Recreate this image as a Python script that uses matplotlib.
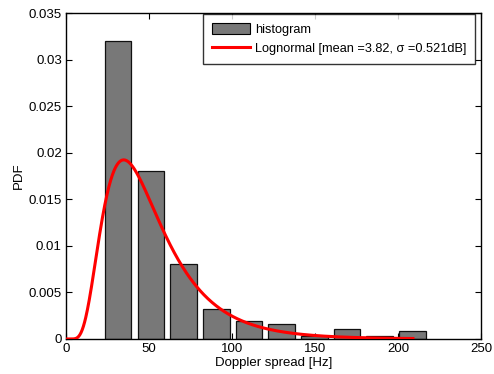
import numpy as np
import matplotlib
matplotlib.use("Agg")
import matplotlib.pyplot as plt
from matplotlib.patches import Patch
from matplotlib.lines import Line2D

plt.rcParams['font.family'] = ['Liberation Sans', 'DejaVu Sans']

# Histogram data (bin centers in Hz, PDF values)
bin_centers = [31.4, 51.1, 70.8, 90.5, 110.2, 129.9, 149.6, 169.3, 189.0, 208.7]
pdf_values = [0.0320, 0.0180, 0.0080, 0.00322, 0.00190, 0.00162, 0.00029, 0.00107, 0.00030, 0.00083]
bar_width = 16.0

# Lognormal fit parameters (from legend)
ln_mean = 3.82
ln_sigma = 0.521
x_max_fit = 209.0

xticks = [0, 50, 100, 150, 200, 250]
yticks = [0, 0.005, 0.01, 0.015, 0.02, 0.025, 0.03, 0.035]
ytick_labels = ['0', '0.005', '0.01', '0.015', '0.02', '0.025', '0.03', '0.035']

fig = plt.figure(figsize=(4.94, 3.74), dpi=100)
ax = fig.add_axes([0.1336, 0.0936, 0.8401, 0.8716])

ax.bar(bin_centers, pdf_values, width=bar_width, color='#787878',
       edgecolor='#111111', linewidth=0.9, zorder=2)

x = np.linspace(0.01, x_max_fit, 600)
y = 1.0 / (x * ln_sigma * np.sqrt(2 * np.pi)) * np.exp(-(np.log(x) - ln_mean) ** 2 / (2 * ln_sigma ** 2))
ax.plot(np.concatenate([[0], x]), np.concatenate([[0], y]), color='#ff0000', lw=2.2, zorder=3)

ax.set_xlim(0, 250)
ax.set_ylim(0, 0.035)
ax.set_xticks(xticks)
ax.set_xticklabels([str(t) for t in xticks])
ax.set_yticks(yticks)
ax.set_yticklabels(ytick_labels)
ax.tick_params(direction='in', top=True, right=True, labelsize=9.5, length=4, width=0.8, pad=3)
for s in ax.spines.values():
    s.set_linewidth(1.0)

ax.set_xlabel('Doppler spread [Hz]', fontsize=9.5, labelpad=1)
ax.set_ylabel('PDF', fontsize=9.5, labelpad=3)

handles = [Patch(facecolor='#787878', edgecolor='black', linewidth=0.8),
           Line2D([0], [0], color='#ff0000', lw=2.2)]
labels = ['histogram', 'Lognormal [mean =3.82, \u03c3 =0.521dB]']
leg = ax.legend(handles, labels, loc='upper right', bbox_to_anchor=(0.986, 0.997),
                fontsize=9.2, frameon=True, fancybox=False, borderpad=0.7,
                handlelength=3.0, handleheight=0.9, handletextpad=0.35,
                labelspacing=0.5, borderaxespad=0)
leg.get_frame().set_edgecolor('black')
leg.get_frame().set_linewidth(1.0)

fig.savefig('out.png', dpi=100)
